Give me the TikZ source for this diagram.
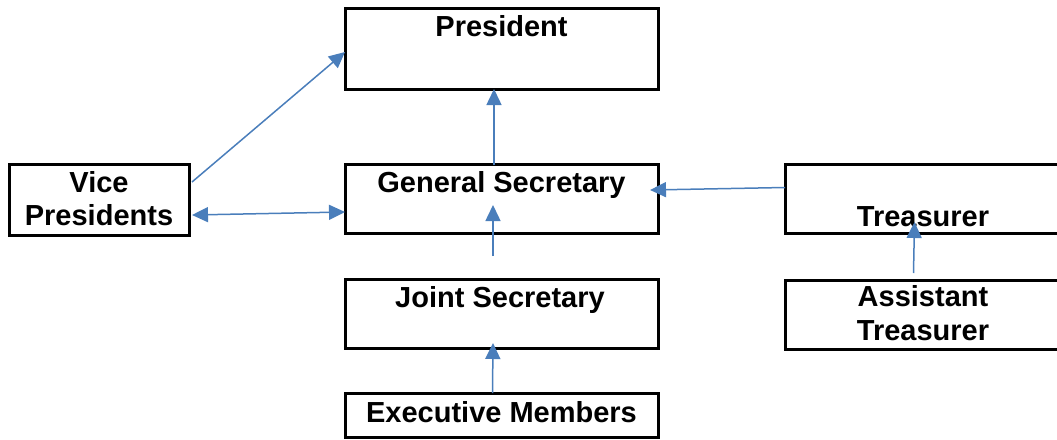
\documentclass[tikz,border=0pt]{standalone}
\usepackage{fontspec}
\setmainfont{Liberation Sans}
\usetikzlibrary{calc,arrows.meta}
\definecolor{arrblue}{RGB}{74,126,187}
\tikzset{
  box/.style={draw=black, line width=3pt, rectangle, inner sep=0pt, outer sep=0pt},
  lbl/.style={font=\bfseries\fontsize{29}{34}\selectfont, anchor=base, inner sep=0pt, align=center},
  arr/.style={draw=arrblue, line width=1.5pt, -{Triangle[length=16pt,width=15pt]}},
  darr/.style={draw=arrblue, line width=1.5pt, {Triangle[length=16pt,width=15pt]}-{Triangle[length=16pt,width=15pt]}}
}
\begin{document}
\begin{tikzpicture}[x=1pt,y=-1pt]
\useasboundingbox (0,0) rectangle (1057,439);
\clip (0,0) rectangle (1057,439);
% boxes
\node[box, minimum width=313pt, minimum height=81pt] (pres) at (501.5,48.5) {};
\node[box, minimum width=180pt, minimum height=71pt] (vp) at (99,199.5) {};
\node[box, minimum width=313pt, minimum height=69pt] (gs) at (501.5,198.5) {};
\node[box, minimum width=285pt, minimum height=69pt] (tr) at (927.5,198.5) {};
\node[box, minimum width=313pt, minimum height=69pt] (js) at (501.5,313.5) {};
\node[box, minimum width=285pt, minimum height=69pt] (at) at (927.5,314.5) {};
\node[box, minimum width=313pt, minimum height=44pt] (ex) at (501.5,415) {};
% texts
\node[lbl] (presT) at (501.5,36) {President};
\node[lbl] (vpT1) at (99,192) {Vice};
\node[lbl] (vpT2) at (99,225.5) {Presidents};
\node[lbl] (gsT) at (501.5,192) {General Secretary};
\node[lbl] (trT) at (923,226) {Treasurer};
\node[lbl] (atT1) at (923,306) {Assistant};
\node[lbl] (atT2) at (923,340) {Treasurer};
\node[lbl] (jsT) at (500,307) {Joint Secretary};
\node[lbl] (exT) at (501.5,422) {Executive Members};
% connectors
\coordinate (jsup) at ($(js.north)+(-8.5,-23)$);
\draw[arr] ($(vp.east)+(3,-17.5)$) -- ($(pres.west)+(0,3.5)$);
\draw[darr] ($(vp.east)+(3,15.5)$) -- ($(gs.west)+(0,13.5)$);
\draw[arr] ($(gs.north)+(-7.5,1)$) -- ($(pres.south)+(-7.5,0)$);
\draw[arr] (jsup) -- ($(gs.center)+(-8.5,6.5)$);
\draw[arr] ($(tr.west)+(0,-11)$) -- ($(gs.east)+(-8,-8.5)$);
\draw[arr] ($(at.north)+(-14,-7)$) -- ($(tr.south)+(-13,-11)$);
\draw[arr] ($(ex.north)+(-9,0)$) -- ($(js.south)+(-8.5,-5)$);
\end{tikzpicture}
\end{document}
